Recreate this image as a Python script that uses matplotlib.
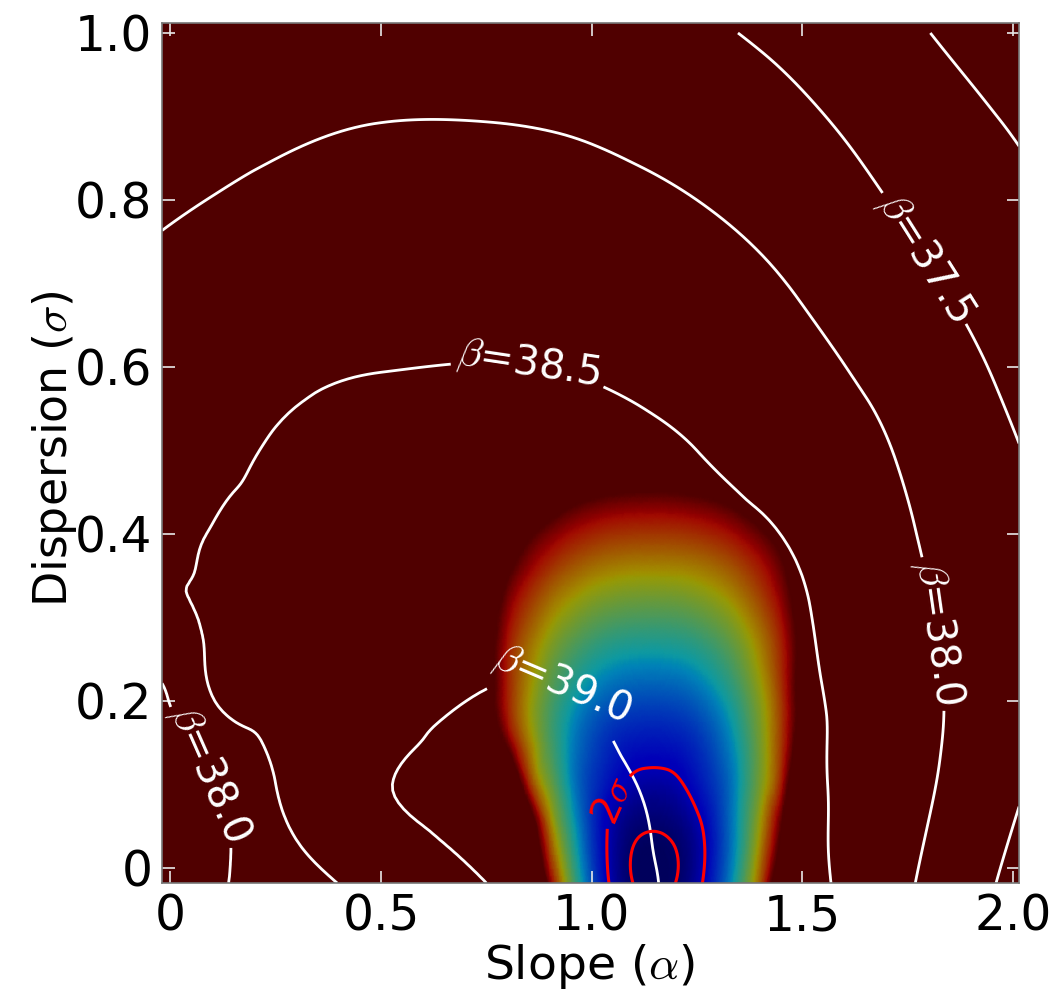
import numpy as np
import matplotlib
matplotlib.use("Agg")
import matplotlib.pyplot as plt
import matplotlib.tri as mtri
from matplotlib.colors import ListedColormap

plt.rcParams['font.family'] = ['DejaVu Sans']
plt.rcParams['mathtext.fontset'] = 'cm'

# ---------------- data ----------------
# beta (white contour) surface: grid nodes and values
beta_alpha = [-0.02, 0.125, 0.25, 0.5, 0.75, 1.0, 1.25, 1.5, 1.75, 2.015]
beta_sigma = [-0.018, 0.1, 0.2, 0.3, 0.4, 0.5, 0.6, 0.7, 0.8, 0.9, 1.0]
beta_values = [
    [37.72, 37.97, 38.22, 38.65, 39.00, 39.15, 38.88, 38.62, 38.05, 37.36],
    [37.80, 38.05, 38.50, 38.98, 39.15, 39.10, 38.83, 38.58, 38.15, 37.54],
    [37.90, 38.55, 38.64, 38.84, 39.02, 38.99, 38.75, 38.56, 38.17, 37.66],
    [38.44, 38.56, 38.66, 38.81, 38.92, 38.90, 38.74, 38.53, 38.12, 37.67],
    [38.40, 38.53, 38.61, 38.73, 38.79, 38.77, 38.62, 38.45, 38.04, 37.61],
    [38.30, 38.42, 38.53, 38.62, 38.65, 38.63, 38.50, 38.30, 37.94, 37.51],
    [38.20, 38.30, 38.40, 38.49, 38.51, 38.47, 38.34, 38.12, 37.80, 37.38],
    [38.08, 38.17, 38.25, 38.32, 38.34, 38.30, 38.17, 37.96, 37.62, 37.24],
    [37.95, 38.02, 38.08, 38.14, 38.16, 38.12, 38.00, 37.78, 37.43, 37.09],
    [37.82, 37.88, 37.93, 37.99, 37.99, 37.94, 37.80, 37.57, 37.24, 36.95],
    [37.72, 37.77, 37.82, 37.86, 37.85, 37.75, 37.58, 37.35, 37.06, 36.80],
]
beta_plain_levels = [37.0]
beta_label_levels = [37.5, 38.0, 38.5, 39.0]

# colour-scale surface (percent of the colour range) + confidence contours
chi_alpha = [0.5, 0.7, 0.8, 0.85, 0.9, 0.95, 1.0, 1.05, 1.1, 1.15,
             1.2, 1.25, 1.3, 1.35, 1.4, 1.45, 1.5, 1.6, 1.8]
chi_sigma = [-0.018, 0.05, 0.1, 0.15, 0.2, 0.25, 0.3, 0.35, 0.4, 0.45, 0.5, 0.6]
chi_values = [
    [130, 130, 130, 130, 95.1, 53.7, 25.6, 8.9, 1.4, 0.0, 1.6, 8.2, 21.8, 43.9, 75.8, 118.4, 130, 130, 130],
    [130, 130, 130, 113.7, 72.2, 41.7, 21.0, 8.7, 3.1, 2.1, 3.45, 8.9, 20.1, 38.3, 64.7, 100.0, 130, 130, 130],
    [130, 130, 123.6, 86.1, 56.7, 35.2, 21.5, 14.0, 9.2, 8.0, 9.5, 15.0, 23.0, 37.0, 57.9, 86.3, 122.8, 130, 130],
    [130, 130, 97.0, 70.3, 49.6, 34.4, 24.5, 18.6, 16.0, 15.5, 16.4, 20.0, 27.4, 39.4, 57.2, 81.1, 111.8, 130, 130],
    [130, 130, 85.7, 65.8, 50.4, 39.0, 31.2, 26.6, 24.6, 24.2, 25.0, 28.2, 34.7, 45.2, 60.6, 81.2, 107.4, 130, 130],
    [130, 130, 86.2, 69.9, 57.2, 47.9, 41.6, 37.8, 36.1, 35.8, 36.5, 39.2, 44.7, 53.6, 66.7, 84.0, 106.3, 130, 130],
    [130, 129.8, 91.8, 78.0, 67.3, 59.4, 54.1, 50.9, 49.5, 49.2, 49.7, 52.0, 56.5, 63.8, 74.5, 88.8, 107.0, 130, 130],
    [130, 130, 101.3, 89.4, 80.1, 73.3, 68.6, 65.9, 64.6, 64.4, 64.8, 66.6, 70.2, 76.1, 84.6, 96.0, 110.5, 130, 130],
    [130, 130, 112.7, 102.6, 94.7, 88.9, 85.0, 82.6, 81.6, 81.4, 81.75, 83.2, 86.0, 90.7, 97.5, 106.6, 118.3, 130, 130],
    [130, 130, 130, 121.2, 113.3, 107.5, 103.6, 101.2, 100.2, 100.0, 100.4, 101.8, 104.6, 109.3, 116.1, 125.2, 130, 130, 130],
    [130, 130, 130, 130, 130, 128, 124, 121, 120, 120, 120, 121, 124, 128, 130, 130, 130, 130, 130],
    [130] * 19,
]
chi_vmax = 100.0
conf_1sigma = [1.55]
conf_2sigma = [11.1]
conf_label = r'2$\sigma$'

x_ticks = [0, 0.5, 1.0, 1.5, 2.0]
x_ticklabels = ['0', '0.5', '1.0', '1.5', '2.0']
y_ticks = [0, 0.2, 0.4, 0.6, 0.8, 1.0]
y_ticklabels = ['0', '0.2', '0.4', '0.6', '0.8', '1.0']

# ---------------- figure ----------------
fig = plt.figure(figsize=(10.55, 9.94), dpi=100)
ax = fig.add_axes([0.1536, 0.1117, 0.8123, 0.8652])

base = plt.cm.jet(np.linspace(0, 1, 256))[:, :3]
cmap = ListedColormap(base * np.array([0.63, 0.60, 0.72]))
ax.set_facecolor(cmap(1.0))


def refined(xs, ys, zz, subdiv=4):
    X, Y = np.meshgrid(np.asarray(xs, float), np.asarray(ys, float))
    Z = np.asarray(zz, float)
    tr = mtri.Triangulation(X.ravel(), Y.ravel())
    interp = mtri.CubicTriInterpolator(tr, Z.ravel(), kind='min_E')
    ref = mtri.UniformTriRefiner(tr)
    return ref.refine_field(Z.ravel(), triinterpolator=interp, subdiv=subdiv)


tri_c, z_c = refined(chi_alpha, chi_sigma, chi_values, subdiv=4)
ax.tripcolor(tri_c, z_c, shading='gouraud', cmap=cmap, vmin=0, vmax=chi_vmax)

tri_b, z_b = refined(beta_alpha, beta_sigma, beta_values, subdiv=4)
ax.tricontour(tri_b, z_b, levels=beta_plain_levels, colors='white', linewidths=2.0)
cs = ax.tricontour(tri_b, z_b, levels=beta_label_levels, colors='white', linewidths=2.0)
ax.clabel(cs, inline=True, inline_spacing=6,
          fontsize=29, colors='white',
          fmt=lambda v: r'$\beta$=%.1f' % v,
          manual=[(1.79, 0.73), (1.81, 0.28), (0.12, 0.12), (0.85, 0.60), (0.90, 0.195)])

ax.tricontour(tri_c, z_c, levels=conf_1sigma, colors='red', linewidths=2.2)
cr = ax.tricontour(tri_c, z_c, levels=conf_2sigma, colors='red', linewidths=2.2)
ax.clabel(cr, inline=True, fontsize=28, colors='red',
          fmt=lambda v: conf_label, manual=[(1.055, 0.08)])

ax.set_xlim(-0.02, 2.015)
ax.set_ylim(-0.018, 1.012)
ax.set_xticks(x_ticks)
ax.set_xticklabels(x_ticklabels)
ax.set_yticks(y_ticks)
ax.set_yticklabels(y_ticklabels)
ax.tick_params(direction='in', top=True, right=True, length=9, width=1.2,
               color='#e8e8e8', labelcolor='black', labelsize=35, pad=7)
for s in ax.spines.values():
    s.set_color('#777777')
    s.set_linewidth(1.2)

ax.set_xlabel(r'Slope ($\alpha$)', fontsize=34, va='center')
ax.xaxis.set_label_coords(0.499, -0.097)
ax.set_ylabel(r'Dispersion ($\sigma$)', fontsize=33, va='center')
ax.yaxis.set_label_coords(-0.126, 0.505)

fig.savefig('out.png', dpi=100)
